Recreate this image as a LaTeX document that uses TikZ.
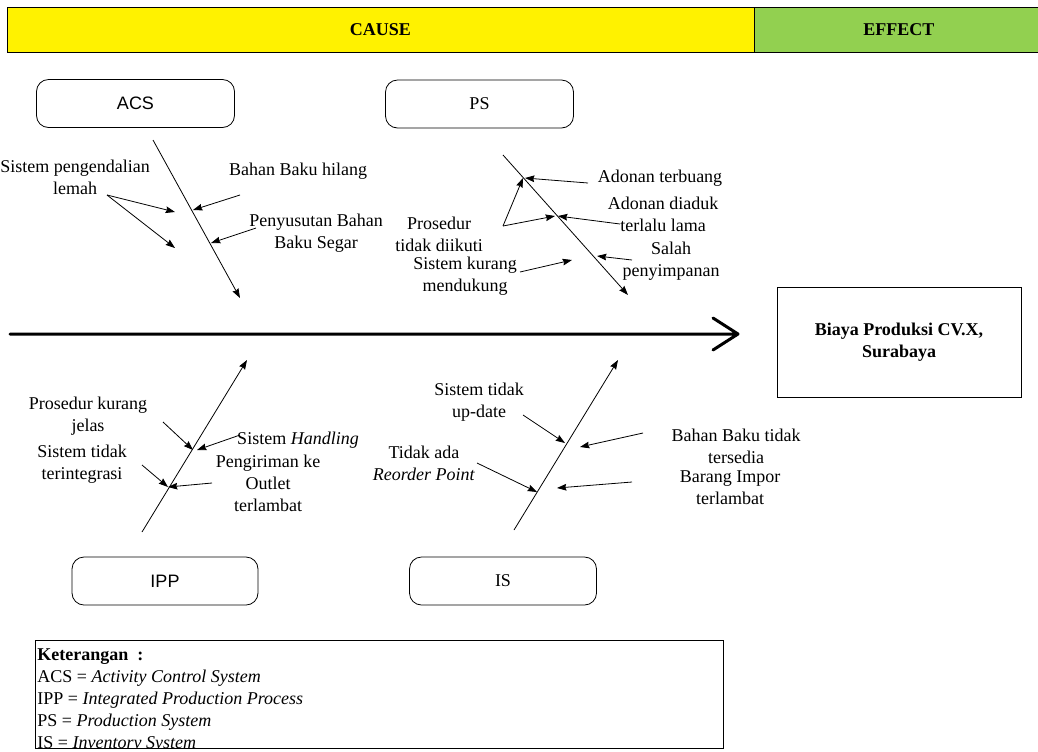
\documentclass[tikz,border=0pt]{standalone}
\usepackage{fontspec}
\setmainfont{Liberation Serif}
\setsansfont{Liberation Sans}
\usepackage{tikz}
\usetikzlibrary{positioning}
\usetikzlibrary{arrows.meta}

\definecolor{effgreen}{RGB}{146,208,80}

\begin{document}
\begin{tikzpicture}[x=0.75pt,y=-0.75pt,>={Stealth[length=7pt,width=5pt,inset=0.8pt]},
	semithick,font=\fontsize{13.5}{16.5}\selectfont,
	cat node/.style={draw,rounded corners=9pt,minimum height=36pt,inner sep=0pt},
	txt node/.style={align=center,inner sep=0pt},
	bar node/.style={draw,minimum height=33.75pt,inner sep=0pt,font=\bfseries\fontsize{13.5}{16.5}\selectfont}]
	
	\useasboundingbox (0,0) rectangle (1038,751);
	
	% header
	\node[bar node,fill=yellow,minimum width=560.25pt] (cause) at (380.5,29.5) {CAUSE};
	\node[bar node,fill=effgreen,minimum width=216pt,anchor=west] (effect) at (cause.east) {EFFECT};
	
	% categories
	\node[cat node,minimum width=148.5pt,font=\sffamily\fontsize{13.5}{16.5}\selectfont] (acs) at (135.5,103.5) {ACS};
	\node[cat node,minimum width=141pt] (ps) at (479.5,104) {PS};
	\node[cat node,minimum width=139.5pt,font=\sffamily\fontsize{13.5}{16.5}\selectfont] (ipp) at (165,581) {IPP};
	\node[cat node,minimum width=140.25pt] (is) at (503,581) {IS};
	
	% spine and effect
	\coordinate (tail) at (10,334);
	\coordinate (tip) at (738,334);
	\coordinate (barbl) at (713,318);
	\coordinate (barbr) at (713,350);
	\draw[line width=2.25pt,line cap=round,line join=round] (tail) -- (tip) (barbl) -- (tip) -- (barbr);
	\node[draw,minimum width=183pt,minimum height=82.5pt,align=center,font=\bfseries\fontsize{13.5}{16.5}\selectfont] (biaya) at (899,342) {Biaya Produksi CV.X,\\Surabaya};
	
	% ACS
	\node[txt node] (lemah) at (75,177) {Sistem pengendalian\\lemah};
	\node[txt node] (hilang) at (298,171) {Bahan Baku hilang};
	\node[txt node] (susut) at (316,233) {Penyusutan Bahan\\Baku Segar};
	\coordinate (acsA) at (153,140);
	\coordinate (acsB) at (240,298);
	\coordinate (acs1) at (107,195);
	\coordinate (acs1a) at (175,212);
	\coordinate (acs1b) at (175,248);
	\coordinate (acs2) at (240,195);
	\coordinate (acs2e) at (193,210);
	\coordinate (acs3) at (256,228);
	\coordinate (acs3e) at (211,243);
	\path[->] (acsA) edge (acsB)
	(acs1) edge (acs1a)
	(acs1) edge (acs1b)
	(acs2) edge (acs2e)
	(acs3) edge (acs3e);
	
	% PS
	\node[txt node] (buang) at (660,178) {Adonan terbuang};
	\node[txt node] (aduk) at (663,214) {Adonan diaduk\\terlalu lama};
	\node[txt node] (prosedur) at (439,234) {Prosedur\\tidak diikuti};
	\node[txt node] (dukung) at (465,276) {Sistem kurang\\mendukung};
	\node[txt node] (simpan) at (671,261) {Salah\\penyimpanan};
	\coordinate (psA) at (503,155);
	\coordinate (psB) at (628,295);
	\coordinate (ps1) at (588,183);
	\coordinate (ps1e) at (525,178);
	\coordinate (ps2) at (620,224);
	\coordinate (ps2e) at (558,216);
	\coordinate (ps3) at (503,226);
	\coordinate (ps3a) at (523,178);
	\coordinate (ps3b) at (555,216);
	\coordinate (ps4) at (520,272);
	\coordinate (ps4e) at (572,260);
	\coordinate (ps5) at (632,260);
	\coordinate (ps5e) at (597,256);
	\path[->] (psA) edge (psB)
	(ps1) edge (ps1e)
	(ps2) edge (ps2e)
	(ps3) edge (ps3a)
	(ps3) edge (ps3b)
	(ps4) edge (ps4e)
	(ps5) edge (ps5e);
	
	% IPP
	\node[txt node] (jelas) at (88,416) {Prosedur kurang\\jelas};
	\node[txt node] (handling) at (298,440) {Sistem \textit{Handling}};
	\node[txt node] (integrasi) at (82,464) {Sistem tidak\\terintegrasi};
	\node[txt node] (kirim) at (268,483) {Pengiriman ke\\Outlet\\terlambat};
	\coordinate (ippA) at (142,532);
	\coordinate (ippB) at (247,360);
	\coordinate (ipp1) at (163,422);
	\coordinate (ipp1e) at (193,450);
	\coordinate (ipp2) at (240,435);
	\coordinate (ipp2e) at (197,450);
	\coordinate (ipp3) at (142,465);
	\coordinate (ipp3e) at (168,487);
	\coordinate (ipp4) at (212,483);
	\coordinate (ipp4e) at (168,487);
	\path[->] (ippA) edge (ippB)
	(ipp1) edge (ipp1e)
	(ipp2) edge (ipp2e)
	(ipp3) edge (ipp3e)
	(ipp4) edge (ipp4e);
	
	% IS
	\node[txt node] (update) at (479,402) {Sistem tidak\\up-date};
	\node[txt node] (sedia) at (736,446) {Bahan Baku tidak\\tersedia};
	\node[txt node] (rop) at (424,463) {Tidak ada\\\textit{Reorder Point}};
	\node[txt node] (impor) at (730,488) {Barang Impor\\terlambat};
	\coordinate (isA) at (514,530);
	\coordinate (isB) at (618,360);
	\coordinate (is1) at (523,415);
	\coordinate (is1e) at (565,443);
	\coordinate (is2) at (643,433);
	\coordinate (is2e) at (580,447);
	\coordinate (is3) at (477,463);
	\coordinate (is3e) at (537,492);
	\coordinate (is4) at (632,482);
	\coordinate (is4e) at (557,488);
	\path[->] (isA) edge (isB)
	(is1) edge (is1e)
	(is2) edge (is2e)
	(is3) edge (is3e)
	(is4) edge (is4e);
	
	% legend
	\begin{scope}
	\clip (35,640) rectangle (723,748);
	\node[anchor=north west,align=left,inner sep=0pt] (ket) at (37,648) {\textbf{Keterangan\ \ :}\\
		ACS = \textit{Activity Control System}\\
		IPP = \textit{Integrated Production Process}\\
		PS = \textit{Production System}\\
		IS = \textit{Inventory System}};
	\end{scope}
	\draw (35,640) rectangle (723,748);
\end{tikzpicture}
\end{document}
